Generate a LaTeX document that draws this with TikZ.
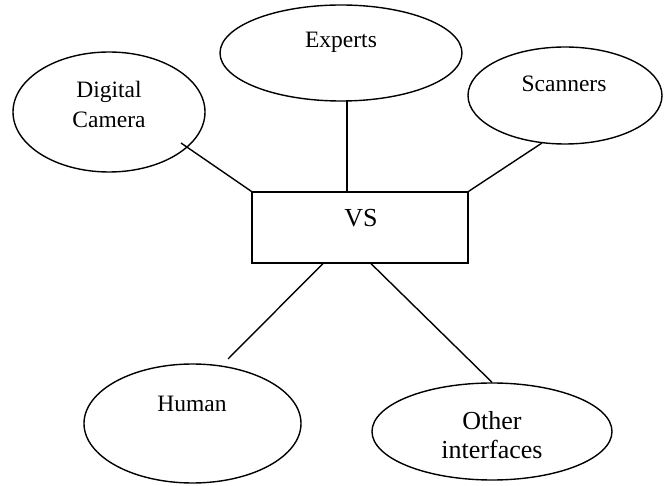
\documentclass[tikz,border=0pt]{standalone}
\usepackage{fontspec}
\setmainfont{Liberation Serif}
\usetikzlibrary{shapes.geometric,calc}
\tikzset{
  oval/.style={draw=black, line width=1.4pt, ellipse, inner sep=0pt},
  hub/.style={draw=black, line width=1.4pt, rectangle, inner sep=0pt},
  link/.style={draw=black, line width=1.4pt},
  txt/.style={inner sep=0pt, anchor=base, font=\fontsize{23.5}{28}\selectfont},
  bigtxt/.style={inner sep=0pt, anchor=base, font=\fontsize{26}{30}\selectfont}
}
\begin{document}
\begin{tikzpicture}[x=1pt,y=-1pt]
  \useasboundingbox[fill=white] (0,0) rectangle (665,486);

  % central block
  \node[hub, minimum width=216pt, minimum height=71pt] (vs) at (360,227.5) {};
  \node[bigtxt] (vsLabel) at (361,227) {VS};

  % surrounding sources
  \node[oval, minimum width=192pt, minimum height=120pt] (dc) at (109,112) {};
  \node[txt] (dcLabelA) at (109,98) {Digital};
  \node[txt] (dcLabelB) at (109,128) {Camera};

  \node[oval, minimum width=242pt, minimum height=96pt] (ex) at (341,53) {};
  \node[txt] (exLabel) at (341,48) {Experts};

  \node[oval, minimum width=194pt, minimum height=97pt] (sc) at (565,95.5) {};
  \node[txt] (scLabel) at (564,92) {Scanners};

  \node[oval, minimum width=217pt, minimum height=119pt] (hu) at (192.5,423.5) {};
  \node[txt] (huLabel) at (192,412) {Human};

  \node[oval, minimum width=240pt, minimum height=97pt] (ot) at (492,431.5) {};
  \node[bigtxt] (otLabelA) at (492,430) {Other};
  \node[bigtxt] (otLabelB) at (492,459) {interfaces};

  % loose connector ends
  \coordinate (dcEnd) at (181,143);
  \coordinate (exEnd) at (347,101);
  \coordinate (scEnd) at (542,143);
  \coordinate (huEnd) at (228,359);

  % connectors
  \draw[link] (dcEnd) -- (vs.north west);
  \draw[link] (exEnd) -- (exEnd |- vs.north);
  \draw[link] (scEnd) -- (vs.north east);
  \draw[link] ($(vs.south west)!0.329!(vs.south east)$) -- (huEnd);
  \draw[link] ($(vs.south west)!0.551!(vs.south east)$) -- (ot.north);
\end{tikzpicture}
\end{document}
